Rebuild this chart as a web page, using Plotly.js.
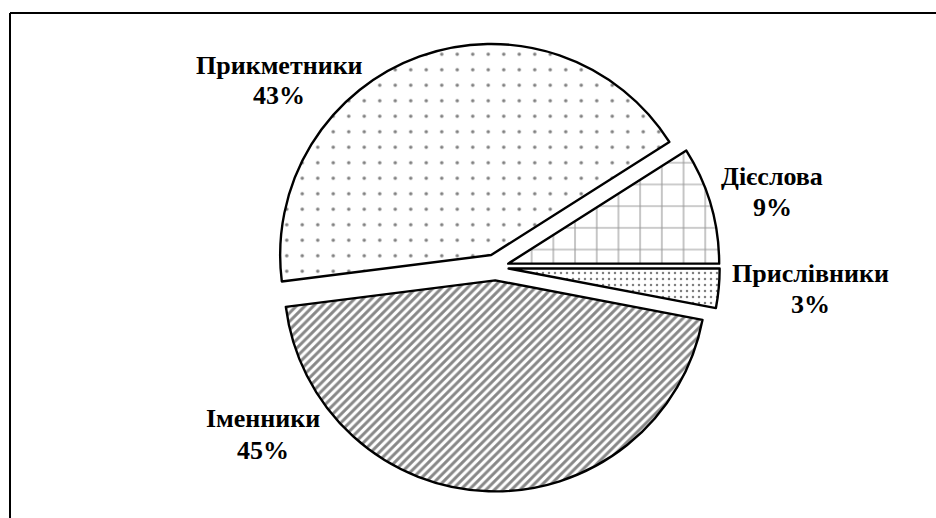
<!DOCTYPE html>
<html>
<head>
<meta charset="utf-8">
<script src="https://cdn.plot.ly/plotly-3.0.1.min.js"></script>
<style>html,body{margin:0;padding:0;background:#fff;}#chart{width:936px;height:518px;}</style>
</head>
<body>
<div id="chart"></div>
<script>
// Data
var categories = ["Дієслова", "Прислівники", "Іменники", "Прикметники"];
var values = [9, 3, 45, 43];
var percentLabels = ["9%", "3%", "45%", "43%"];

// Styles (kept separate from data)
var patterns = [
  {shape: "+", size: 21.7, solidity: 0.1, fgcolor: "#333"},
  {shape: ".", size: 6, solidity: 0.14, fgcolor: "#000"},
  {shape: "/", size: 6, solidity: 0.5, fgcolor: "#111"},
  {shape: ".", size: 15.5, solidity: 0.04, fgcolor: "#000"}
];
// label centres in pixels: [x, y line1, y line2]
var labelPos = [[772, 176, 207], [810, 273, 304], [263, 418, 450], [279, 66, 96]];

var W = 936, H = 518;
var cx = 495.6, cy = 267.3, half = 224.1;

var trace = {
  type: "pie",
  labels: categories,
  values: values,
  sort: false,
  direction: "clockwise",
  rotation: 57.6,
  pull: 0.062,
  textinfo: "none",
  hoverinfo: "label+percent",
  marker: {
    colors: ["#fff", "#fff", "#fff", "#fff"],
    line: {color: "#000", width: 2.4},
    pattern: {
      shape: patterns.map(function(p){return p.shape;}),
      size: patterns.map(function(p){return p.size;}),
      solidity: patterns.map(function(p){return p.solidity;}),
      fgcolor: patterns.map(function(p){return p.fgcolor;}),
      bgcolor: "#fff",
      fillmode: "overlay"
    }
  },
  domain: {x: [(cx - half) / W, (cx + half) / W], y: [(H - cy - half) / H, (H - cy + half) / H]},
  showlegend: false
};

var font = {family: "Liberation Serif, Times New Roman, serif", size: 26, color: "#000", weight: "bold"};
var annotations = [];
categories.forEach(function(c, i) {
  annotations.push({text: "<b>" + c + "</b>", x: labelPos[i][0] / W, y: 1 - labelPos[i][1] / H,
    xref: "paper", yref: "paper", xanchor: "center", yanchor: "middle", showarrow: false, font: font});
  annotations.push({text: "<b>" + percentLabels[i] + "</b>", x: labelPos[i][0] / W, y: 1 - labelPos[i][2] / H,
    xref: "paper", yref: "paper", xanchor: "center", yanchor: "middle", showarrow: false, font: font});
});

var layout = {
  width: W, height: H,
  margin: {l: 0, r: 0, t: 0, b: 0},
  paper_bgcolor: "#fff",
  showlegend: false,
  annotations: annotations,
  shapes: [
    {type: "line", xref: "paper", yref: "paper", x0: 10 / W, x1: 1, y0: 1 - 13 / H, y1: 1 - 13 / H, line: {color: "#000", width: 2}},
    {type: "line", xref: "paper", yref: "paper", x0: 10 / W, x1: 10 / W, y0: 1 - 13 / H, y1: 0, line: {color: "#000", width: 2}}
  ]
};

Plotly.newPlot("chart", [trace], layout, {staticPlot: true});
</script>
</body>
</html>
